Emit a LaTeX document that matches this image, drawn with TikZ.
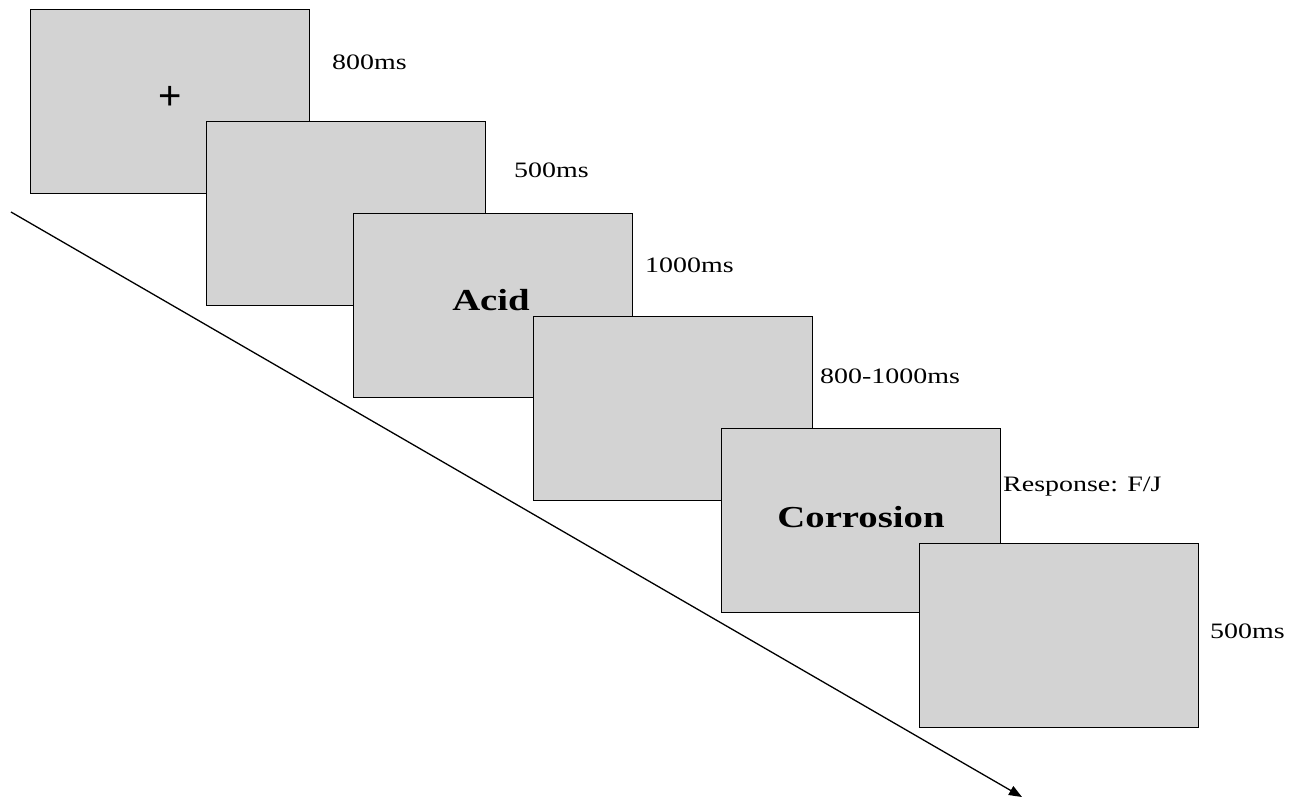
\documentclass[tikz,border=0pt]{standalone}
\usepackage{fontspec}
\setmainfont{Liberation Serif}
\newfontfamily\widefont[FakeStretch=1.27]{Liberation Serif}
\newfontfamily\plusfont{Liberation Sans}
\usetikzlibrary{arrows.meta}
\definecolor{scrgray}{RGB}{211,211,211}
\begin{document}
\begin{tikzpicture}[x=1pt,y=-1pt,
  screen/.style={draw=black,line width=1.1pt,fill=scrgray,minimum width=279pt,minimum height=184pt,anchor=north west,inner sep=0pt},
  timelbl/.style={anchor=west,inner sep=0pt,font=\widefont\fontsize{22}{24}\selectfont},
  bigword/.style={font=\widefont\bfseries\fontsize{30.5}{32}\selectfont}]
\useasboundingbox (0,0) rectangle (1291,797);
\coordinate (tstart) at (11,212);
\coordinate (tend) at (1022,797);
\draw[line width=1.3pt,-{Triangle[length=13pt,width=10pt]}] (tstart) -- (tend);
\node[screen] (s1) at (30,9) {};
\node[font=\plusfont\fontsize{40}{40}\selectfont] (plus) at (170,98) {+};
\node[screen] (s2) at (206,121) {};
\node[screen] (s3) at (353,213) {};
\node[bigword] (acid) at (491,300) {Acid};
\node[screen] (s4) at (533,316) {};
\node[screen] (s5) at (721,428) {};
\node[bigword] (corr) at (861,517) {Corrosion};
\node[screen] (s6) at (919,543) {};
\node[timelbl] (l1) at (332,62) {800ms};
\node[timelbl] (l2) at (514,170) {500ms};
\node[timelbl] (l3) at (645,265) {1000ms};
\node[timelbl] (l4) at (820,376) {800-1000ms};
\node[timelbl] (l5) at (1003,487) {Response: F/J};
\node[timelbl] (l6) at (1210,631) {500ms};
\end{tikzpicture}
\end{document}
